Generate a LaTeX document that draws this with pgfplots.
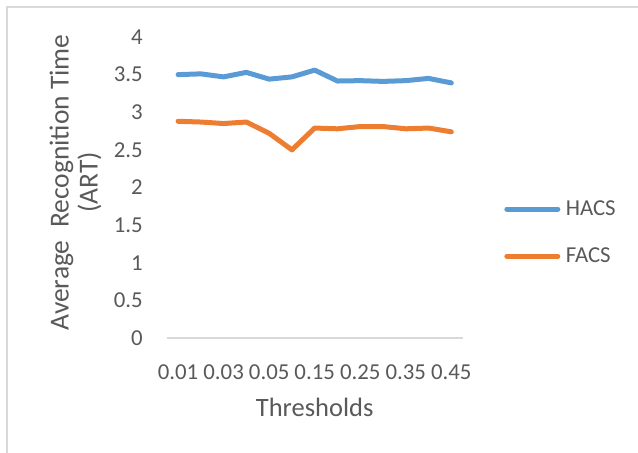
\documentclass[border=0pt]{standalone}
\usepackage{pgfplots}
\pgfplotsset{compat=1.18}
\usepackage{fontspec}
\setmainfont{Carlito}
\definecolor{hacs}{HTML}{5B9BD5}
\definecolor{facs}{HTML}{ED7D31}
\definecolor{txt}{HTML}{595959}
\definecolor{axl}{HTML}{D9D9D9}

\begin{document}
\begin{tikzpicture}
\path[use as bounding box] (0,0) rectangle (638bp,453bp);
\draw[axl, line width=1.5bp] (7bp,0) -- (7bp,446bp) -- (638bp,446bp);
\begin{axis}[
    at={(166.7bp,115bp)}, anchor=south west,
    scale only axis, width=296bp, height=301bp,
    xmin=-0.5, xmax=12.5, ymin=0, ymax=4,
    axis lines=left,
    axis line style={-},
    x axis line style={draw=axl, line width=1.5bp},
    y axis line style={draw=none},
    major tick length=0pt,
    xtick={0,2,...,12},
    xticklabels={0.01,0.03,0.05,0.15,0.25,0.35,0.45},
    ytick={0,0.5,...,4},
    /pgf/number format/assume math mode=true,
    ticklabel style={font=\fontsize{22.8bp}{27bp}\selectfont, text=txt, inner sep=0pt},
    xticklabel style={anchor=north, yshift=-27bp},
    yticklabel style={anchor=east, xshift=-23.7bp},
    xlabel={Thresholds},
    ylabel={Average\ \ Recognition Time\\(ART)},
    xlabel style={at={(axis description cs:0.5,0)}, anchor=base, yshift=-78.7bp,
        font=\fontsize{26.5bp}{30bp}\selectfont, text=txt, inner sep=0pt},
    ylabel style={at={(axis description cs:0,0.517)}, anchor=center, yshift=91.2bp,
        font=\fontsize{27.5bp}{29bp}\selectfont, text=txt, inner sep=0pt, align=center},
    legend style={at={(axis description cs:1.140,0.350)}, anchor=west,
        draw=none, fill=none, inner sep=0pt, row sep=31bp, column sep=5.5bp,
        nodes={inner sep=0pt},
        font=\fontsize{22.8bp}{27bp}\selectfont, text=txt},
    legend cell align=left,
    legend image code/.code={\draw[#1, line cap=round] (0bp,0bp) -- (51bp,0bp);},
    every axis plot/.append style={line width=5bp, line join=round, line cap=round, mark=none},
]
\addplot[hacs] coordinates {
    (0,3.50) (1,3.51) (2,3.47) (3,3.53) (4,3.44) (5,3.47) (6,3.56)
    (7,3.415) (8,3.42) (9,3.41) (10,3.42) (11,3.45) (12,3.39)};
\addlegendentry{HACS}
\addplot[facs] coordinates {
    (0,2.88) (1,2.87) (2,2.85) (3,2.87) (4,2.72) (5,2.50) (6,2.79)
    (7,2.78) (8,2.81) (9,2.81) (10,2.78) (11,2.79) (12,2.74)};
\addlegendentry{FACS}
\end{axis}
\end{tikzpicture}
\end{document}
